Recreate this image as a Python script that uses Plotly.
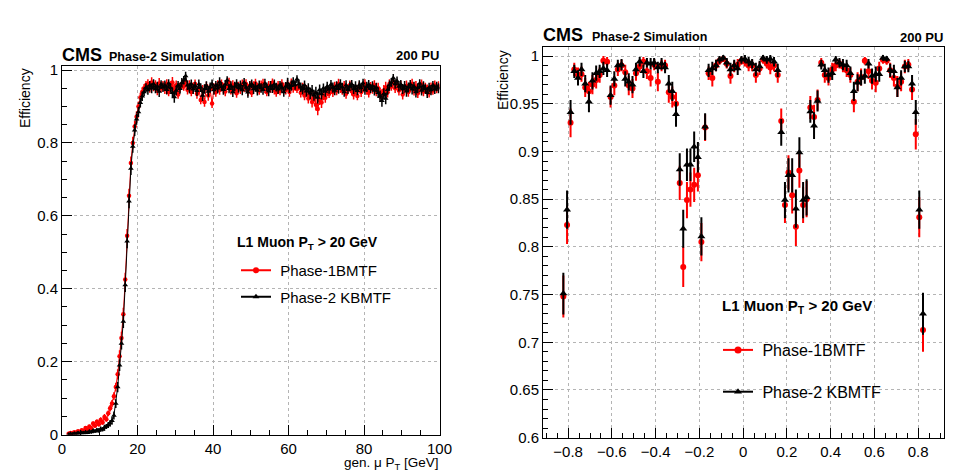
import plotly.graph_objects as go

# the page puts the figure 8 px in from the top-left corner (body margin)
PAGE_OFF = 8
W, H = 959 - PAGE_OFF, 472 - PAGE_OFF

# ---- left panel: efficiency vs gen muon pT (0.5 GeV bins) ----
PT_FIRST, PT_BIN = 1.75, 0.5

PT_P2_KBMTF = [
    0.000, 0.002, 0.001, 0.003, 0.002, 0.004, 0.003, 0.005, 0.004, 0.006,
    0.005, 0.008, 0.007, 0.010, 0.009, 0.012, 0.011, 0.015, 0.014, 0.019,
    0.022, 0.026, 0.031, 0.038, 0.052, 0.085, 0.130, 0.190, 0.250, 0.310,
    0.410, 0.530, 0.640, 0.730, 0.790, 0.835, 0.865, 0.885, 0.910, 0.928,
    0.940,
    0.952, 0.945, 0.958, 0.950, 0.962, 0.948, 0.955, 0.941, 0.960, 0.953,
    0.957, 0.946, 0.963, 0.951, 0.938, 0.926, 0.944, 0.958, 0.949, 0.965,
    0.972, 0.984, 0.958, 0.950, 0.962, 0.947, 0.956, 0.943, 0.961, 0.952,
    0.930, 0.948, 0.957, 0.941, 0.953, 0.962, 0.945, 0.958, 0.950, 0.967,
    0.954, 0.946, 0.960, 0.972, 0.949, 0.957, 0.940, 0.955, 0.963, 0.951,
    0.958, 0.945, 0.966, 0.952, 0.939, 0.956, 0.962, 0.948, 0.955, 0.944,
    0.959, 0.951, 0.946, 0.963, 0.954, 0.942, 0.957, 0.949, 0.961, 0.953,
    0.947, 0.958, 0.952, 0.940, 0.955, 0.964, 0.950, 0.957, 0.968, 0.959,
    0.975, 0.962, 0.953, 0.947, 0.958, 0.942, 0.950, 0.936, 0.944, 0.931,
    0.938, 0.925, 0.946, 0.934, 0.950, 0.941, 0.955, 0.947, 0.960, 0.952,
    0.944, 0.957, 0.949, 0.962, 0.953, 0.940, 0.958, 0.946, 0.955, 0.961,
    0.948, 0.956, 0.943, 0.959, 0.951, 0.964, 0.945, 0.954, 0.960, 0.949,
    0.956, 0.944, 0.952, 0.938, 0.928, 0.916, 0.935, 0.922, 0.946, 0.958,
    0.966, 0.978, 0.962, 0.970, 0.955, 0.960, 0.948, 0.957, 0.942, 0.953,
    0.961, 0.947, 0.955, 0.940, 0.951, 0.963, 0.944, 0.956, 0.949, 0.938,
    0.952, 0.945, 0.958, 0.947, 0.955, 0.950,
]

PT_P1_BMTF = [
    0.002, 0.004, 0.003, 0.006, 0.005, 0.009, 0.007, 0.012, 0.010, 0.018,
    0.014, 0.022, 0.017, 0.030, 0.024, 0.035, 0.028, 0.040, 0.033, 0.048,
    0.042, 0.058, 0.072, 0.085, 0.105, 0.130, 0.165, 0.215, 0.265, 0.330,
    0.425, 0.545, 0.655, 0.745, 0.800, 0.845, 0.872, 0.900, 0.925, 0.940,
    0.950,
    0.958, 0.962, 0.950, 0.966, 0.955, 0.960, 0.944, 0.963, 0.951, 0.957,
    0.948, 0.962, 0.940, 0.956, 0.966, 0.945, 0.958, 0.933, 0.952, 0.961,
    0.955, 0.968, 0.946, 0.958, 0.940, 0.953, 0.962, 0.935, 0.949, 0.918,
    0.944, 0.912, 0.956, 0.930, 0.947, 0.908, 0.951, 0.939, 0.958, 0.945,
    0.962, 0.950, 0.941, 0.957, 0.966, 0.945, 0.958, 0.949, 0.936, 0.955,
    0.947, 0.960, 0.951, 0.962, 0.944, 0.957, 0.938, 0.955, 0.963, 0.950,
    0.944, 0.958, 0.962, 0.949, 0.940, 0.956, 0.951, 0.965, 0.946, 0.939,
    0.957, 0.943, 0.961, 0.952, 0.945, 0.958, 0.940, 0.963, 0.950, 0.956,
    0.948, 0.957, 0.938, 0.951, 0.930, 0.944, 0.922, 0.935, 0.912, 0.926,
    0.905, 0.893, 0.918, 0.911, 0.930, 0.924, 0.941, 0.935, 0.948, 0.940,
    0.955, 0.943, 0.962, 0.950, 0.944, 0.957, 0.935, 0.949, 0.958, 0.942,
    0.933, 0.947, 0.929, 0.955, 0.940, 0.951, 0.962, 0.946, 0.938, 0.955,
    0.948, 0.958, 0.941, 0.950, 0.936, 0.930, 0.944, 0.952, 0.939, 0.962,
    0.955, 0.968, 0.950, 0.961, 0.944, 0.957, 0.933, 0.948, 0.956, 0.940,
    0.951, 0.962, 0.943, 0.955, 0.936, 0.948, 0.960, 0.941, 0.953, 0.945,
    0.938, 0.952, 0.944, 0.958, 0.949, 0.955,
]

PT_ERR = [
    0.002, 0.003, 0.002, 0.003, 0.003, 0.004, 0.003, 0.004, 0.004, 0.005,
    0.004, 0.005, 0.005, 0.006, 0.005, 0.006, 0.006, 0.007, 0.006, 0.008,
    0.007, 0.008, 0.009, 0.010, 0.011, 0.012, 0.014, 0.016, 0.017, 0.018,
    0.019, 0.019, 0.019, 0.018, 0.017, 0.016, 0.015, 0.014, 0.013, 0.013,
    0.012,
    0.012, 0.013, 0.012, 0.014, 0.013, 0.012, 0.013, 0.015, 0.012, 0.013,
    0.014, 0.013, 0.012, 0.013, 0.015, 0.016, 0.013, 0.012, 0.014, 0.013,
    0.012, 0.011, 0.013, 0.014, 0.012, 0.013, 0.012, 0.014, 0.013, 0.012,
    0.015, 0.013, 0.012, 0.014, 0.013, 0.012, 0.013, 0.012, 0.014, 0.013,
    0.012, 0.014, 0.013, 0.011, 0.013, 0.012, 0.014, 0.013, 0.012, 0.013,
    0.013, 0.014, 0.012, 0.013, 0.015, 0.013, 0.012, 0.014, 0.013, 0.014,
    0.012, 0.013, 0.014, 0.013, 0.012, 0.014, 0.013, 0.012, 0.013, 0.012,
    0.013, 0.012, 0.014, 0.013, 0.012, 0.015, 0.013, 0.014, 0.012, 0.013,
    0.011, 0.012, 0.013, 0.014, 0.013, 0.015, 0.014, 0.016, 0.015, 0.015,
    0.016, 0.017, 0.014, 0.015, 0.013, 0.014, 0.013, 0.012, 0.013, 0.014,
    0.013, 0.012, 0.014, 0.013, 0.012, 0.013, 0.014, 0.012, 0.013, 0.012,
    0.014, 0.013, 0.012, 0.013, 0.014, 0.012, 0.013, 0.014, 0.013, 0.012,
    0.013, 0.014, 0.013, 0.015, 0.016, 0.017, 0.015, 0.016, 0.014, 0.013,
    0.012, 0.011, 0.013, 0.012, 0.014, 0.013, 0.014, 0.013, 0.015, 0.013,
    0.012, 0.014, 0.013, 0.015, 0.013, 0.012, 0.014, 0.013, 0.012, 0.015,
    0.013, 0.014, 0.012, 0.013, 0.013, 0.014,
]

PT_CENTERS = [PT_FIRST + PT_BIN * i for i in range(len(PT_P2_KBMTF))]

# ---- right panel: efficiency vs gen muon eta ----
ETA_CENTERS = [
    -0.822, -0.805, -0.789, -0.772, -0.755, -0.739, -0.722, -0.705, -0.689, -0.672,
    -0.656, -0.639, -0.622, -0.606, -0.589, -0.573, -0.556, -0.539, -0.523, -0.506,
    -0.490, -0.473, -0.456, -0.440, -0.423, -0.407, -0.390, -0.373, -0.357, -0.340,
    -0.324, -0.307, -0.290, -0.274, -0.257, -0.241, -0.224, -0.207, -0.191, -0.174,
    -0.158, -0.141, -0.124, -0.108, -0.091, -0.075, -0.058, -0.041, -0.025, -0.008,
    0.008, 0.025, 0.041, 0.058, 0.075, 0.091, 0.108, 0.124, 0.141, 0.158,
    0.174, 0.191, 0.207, 0.224, 0.241, 0.257, 0.274, 0.290, 0.307, 0.324,
    0.340, 0.357, 0.373, 0.390, 0.407, 0.423, 0.440, 0.456, 0.473, 0.490,
    0.506, 0.523, 0.539, 0.556, 0.573, 0.589, 0.606, 0.622, 0.639, 0.656,
    0.672, 0.689, 0.705, 0.722, 0.739, 0.755, 0.772, 0.789, 0.805, 0.822,
]

ETA_P2_KBMTF = [
    0.751, 0.839, 0.941, 0.984, 0.977, 0.986, 0.971, 0.952, 0.974, 0.982,
    0.984, 0.987, 0.985, 0.959, 0.976, 0.990, 0.991, 0.976, 0.973, 0.970,
    0.986, 0.994, 0.984, 0.993, 0.992, 0.993, 0.988, 0.992, 0.988, 0.971,
    0.963, 0.939, 0.881, 0.819, 0.886, 0.886, 0.905, 0.894, 0.811, 0.926,
    0.985, 0.987, 0.990, 0.996, 0.998, 0.993, 0.986, 0.990, 0.987, 0.996,
    0.997, 0.994, 0.992, 0.986, 0.989, 0.998, 0.996, 0.997, 0.994, 0.985,
    0.920, 0.849, 0.875, 0.875, 0.840, 0.899, 0.849, 0.852, 0.942, 0.927,
    0.953, 0.991, 0.985, 0.980, 0.982, 0.996, 0.993, 0.991, 0.990, 0.982,
    0.963, 0.972, 0.977, 0.979, 0.992, 0.979, 0.981, 0.981, 0.998, 0.997,
    0.985, 0.984, 0.967, 0.977, 0.989, 0.989, 0.971, 0.941, 0.839, 0.730,
]

ETA_P1_BMTF = [
    0.748, 0.823, 0.930, 0.986, 0.980, 0.981, 0.967, 0.963, 0.970, 0.975,
    0.980, 0.995, 0.994, 0.957, 0.969, 0.986, 0.990, 0.983, 0.969, 0.966,
    0.982, 0.989, 0.994, 0.984, 0.977, 0.991, 0.973, 0.990, 0.990, 0.962,
    0.957, 0.950, 0.867, 0.779, 0.849, 0.860, 0.865, 0.875, 0.805, 0.925,
    0.982, 0.977, 0.990, 0.995, 0.997, 0.992, 0.979, 0.989, 0.991, 0.995,
    0.994, 0.990, 0.990, 0.980, 0.987, 0.996, 0.992, 0.988, 0.990, 0.980,
    0.932, 0.844, 0.878, 0.854, 0.821, 0.880, 0.844, 0.850, 0.946, 0.936,
    0.954, 0.993, 0.980, 0.977, 0.986, 0.990, 0.992, 0.989, 0.985, 0.980,
    0.952, 0.973, 0.978, 0.995, 0.984, 0.974, 0.972, 0.987, 0.996, 0.995,
    0.985, 0.977, 0.968, 0.973, 0.989, 0.991, 0.965, 0.918, 0.831, 0.713,
]

ETA_ERR_P2 = [
    0.022, 0.020, 0.013, 0.007, 0.008, 0.007, 0.009, 0.011, 0.009, 0.008,
    0.007, 0.007, 0.007, 0.010, 0.008, 0.006, 0.006, 0.008, 0.009, 0.009,
    0.007, 0.005, 0.007, 0.005, 0.006, 0.005, 0.006, 0.006, 0.006, 0.009,
    0.010, 0.013, 0.017, 0.020, 0.017, 0.017, 0.016, 0.016, 0.020, 0.014,
    0.007, 0.007, 0.006, 0.004, 0.003, 0.005, 0.007, 0.006, 0.007, 0.004,
    0.004, 0.005, 0.005, 0.007, 0.006, 0.003, 0.004, 0.004, 0.005, 0.007,
    0.014, 0.019, 0.018, 0.018, 0.020, 0.016, 0.019, 0.019, 0.012, 0.014,
    0.011, 0.005, 0.007, 0.008, 0.007, 0.004, 0.005, 0.006, 0.006, 0.007,
    0.010, 0.009, 0.008, 0.008, 0.005, 0.008, 0.008, 0.008, 0.003, 0.003,
    0.007, 0.007, 0.010, 0.008, 0.006, 0.006, 0.009, 0.013, 0.020, 0.022,
]

ETA_ERR_P1 = [
    0.022, 0.020, 0.015, 0.007, 0.008, 0.008, 0.010, 0.010, 0.010, 0.009,
    0.008, 0.005, 0.005, 0.011, 0.010, 0.007, 0.006, 0.008, 0.010, 0.010,
    0.008, 0.006, 0.005, 0.008, 0.009, 0.006, 0.010, 0.006, 0.006, 0.011,
    0.011, 0.012, 0.018, 0.021, 0.019, 0.018, 0.018, 0.017, 0.020, 0.014,
    0.007, 0.009, 0.006, 0.004, 0.003, 0.005, 0.008, 0.006, 0.006, 0.004,
    0.005, 0.006, 0.006, 0.008, 0.007, 0.004, 0.005, 0.007, 0.006, 0.008,
    0.013, 0.019, 0.018, 0.019, 0.020, 0.018, 0.019, 0.019, 0.012, 0.013,
    0.011, 0.005, 0.008, 0.008, 0.007, 0.006, 0.005, 0.006, 0.007, 0.008,
    0.011, 0.010, 0.009, 0.004, 0.008, 0.009, 0.010, 0.007, 0.004, 0.004,
    0.008, 0.009, 0.011, 0.010, 0.007, 0.006, 0.011, 0.016, 0.021, 0.023,
]

assert len(PT_P1_BMTF) == len(PT_P2_KBMTF) == len(PT_ERR)
assert len(ETA_CENTERS) == len(ETA_P1_BMTF) == len(ETA_P2_KBMTF) == len(ETA_ERR_P1) == len(ETA_ERR_P2)

RED = "#ff0000"
BLACK = "#000000"
FONT = "Liberation Sans, Arial, Helvetica, sans-serif"
NBSP = "\u00a0"


# page pixel -> paper fraction
def px(x):
    return (x - PAGE_OFF) / W


def py(y):
    return 1 - (y - PAGE_OFF) / H


fig = go.Figure()

# left panel, red first so black sits on top
fig.add_trace(go.Scatter(
    x=PT_CENTERS, y=PT_P1_BMTF, mode="lines+markers", xaxis="x", yaxis="y",
    line=dict(color=RED, width=1),
    marker=dict(symbol="circle", size=4.5, color=RED),
    error_y=dict(type="data", array=PT_ERR, color=RED, thickness=1.5, width=0),
    showlegend=False, hoverinfo="x+y",
))
fig.add_trace(go.Scatter(
    x=PT_CENTERS, y=PT_P2_KBMTF, mode="lines+markers", xaxis="x", yaxis="y",
    line=dict(color=BLACK, width=1),
    marker=dict(symbol="triangle-up", size=5, color=BLACK),
    error_y=dict(type="data", array=PT_ERR, color=BLACK, thickness=1.5, width=0),
    showlegend=False, hoverinfo="x+y",
))

# right panel
fig.add_trace(go.Scatter(
    x=ETA_CENTERS, y=ETA_P1_BMTF, mode="markers", xaxis="x2", yaxis="y2",
    marker=dict(symbol="circle", size=6, color=RED),
    error_y=dict(type="data", array=ETA_ERR_P1, color=RED, thickness=2, width=0),
    showlegend=False, hoverinfo="x+y",
))
fig.add_trace(go.Scatter(
    x=ETA_CENTERS, y=ETA_P2_KBMTF, mode="markers", xaxis="x2", yaxis="y2",
    marker=dict(symbol="triangle-up", size=7, color=BLACK),
    error_y=dict(type="data", array=ETA_ERR_P2, color=BLACK, thickness=2, width=0),
    showlegend=False, hoverinfo="x+y",
))

# legend-only entries (line + marker like ROOT "lp")
for leg, ax, ay, fs in [("legend", "x", "y", 6), ("legend2", "x2", "y2", 7)]:
    fig.add_trace(go.Scatter(
        x=[None], y=[None], xaxis=ax, yaxis=ay, mode="lines+markers",
        name=NBSP + "Phase-1BMTF", legend=leg, legendgroup=leg + "a",
        line=dict(color=RED, width=2), marker=dict(symbol="circle", size=fs, color=RED),
    ))
    fig.add_trace(go.Scatter(
        x=[None], y=[None], xaxis=ax, yaxis=ay, mode="lines+markers",
        name=NBSP + "Phase-2 KBMTF", legend=leg, legendgroup=leg + "b",
        line=dict(color=BLACK, width=2), marker=dict(symbol="triangle-up", size=fs, color=BLACK),
    ))

axis_common = dict(
    ticks="inside", ticklen=10, tickwidth=1, tickcolor="black",
    showline=True, linecolor="black", linewidth=1, mirror=True,
    showgrid=True, gridcolor="#b4b4b4", griddash="dot", gridwidth=1,
    zeroline=False, automargin=False,
    tickfont=dict(size=15, color="black", family=FONT),
)

fig.update_layout(
    template="none",
    width=W, height=H,
    margin=dict(l=0, r=0, t=0, b=0, pad=0, autoexpand=False),
    paper_bgcolor="white", plot_bgcolor="white",
    font=dict(family=FONT, color="black"),
    xaxis=dict(domain=[px(62), px(439.5)], range=[0, 100], anchor="y",
               tick0=0, dtick=20,
               minor=dict(dtick=5, ticks="inside", ticklen=5, tickcolor="black", showgrid=False),
               **axis_common),
    yaxis=dict(domain=[py(434.5), py(66.4)], range=[0, 1.01], anchor="x",
               tick0=0, dtick=0.2,
               minor=dict(dtick=0.05, ticks="inside", ticklen=5, tickcolor="black", showgrid=False),
               **axis_common),
    xaxis2=dict(domain=[px(543), px(944)], range=[-0.915, 0.918], anchor="y2",
                tick0=0, dtick=0.2,
                minor=dict(dtick=0.05, ticks="inside", ticklen=5, tickcolor="black", showgrid=False),
                **axis_common),
    yaxis2=dict(domain=[py(437.7), py(46.5)], range=[0.6, 1.01], anchor="x2",
                tick0=0.6, dtick=0.05,
                minor=dict(dtick=0.01, ticks="inside", ticklen=5, tickcolor="black", showgrid=False),
                **axis_common),
    legend=dict(x=px(236), y=py(254), xanchor="left", yanchor="top",
                bgcolor="rgba(0,0,0,0)", borderwidth=0, tracegroupgap=4,
                font=dict(size=15, family=FONT, color="black")),
    legend2=dict(x=px(718), y=py(333), xanchor="left", yanchor="top",
                 bgcolor="rgba(0,0,0,0)", borderwidth=0, tracegroupgap=18,
                 font=dict(size=16, family=FONT, color="black")),
)

ann = []


def label(text, x, y, size, xanchor="left", yanchor="middle", angle=0):
    ann.append(dict(text=text, x=px(x), y=py(y), xref="paper", yref="paper",
                    xanchor=xanchor, yanchor=yanchor, showarrow=False, textangle=angle,
                    font=dict(size=size, family=FONT, color="black")))


# left header
label("<b>CMS</b>", 60, 55, 18)
label("<b>Phase-2 Simulation</b>", 107, 57, 12.5)
label("<b>200 PU</b>", 441, 56, 13, xanchor="right")
label("Efficiency", 25, 98, 14, xanchor="center", angle=-90)
label("gen. \u03bc P<sub>T</sub> [GeV]", 441, 463.5, 13.5, xanchor="right")
label("<b>L1 Muon P<sub>T</sub> > 20 GeV</b>", 235, 243, 14)

# right header
label("<b>CMS</b>", 541, 35, 18)
label("<b>Phase-2 Simulation</b>", 590, 37, 12.5)
label("<b>200 PU</b>", 945, 37, 13, xanchor="right")
label("Efficiency", 503, 80, 14, xanchor="center", angle=-90)
label("gen. \u03bc \u03b7", 945, 465, 14, xanchor="right", yanchor="top")
label("<b>L1 Muon P<sub>T</sub> > 20 GeV</b>", 720, 306, 15)

fig.update_layout(annotations=ann)

fig.write_html("out.html")
